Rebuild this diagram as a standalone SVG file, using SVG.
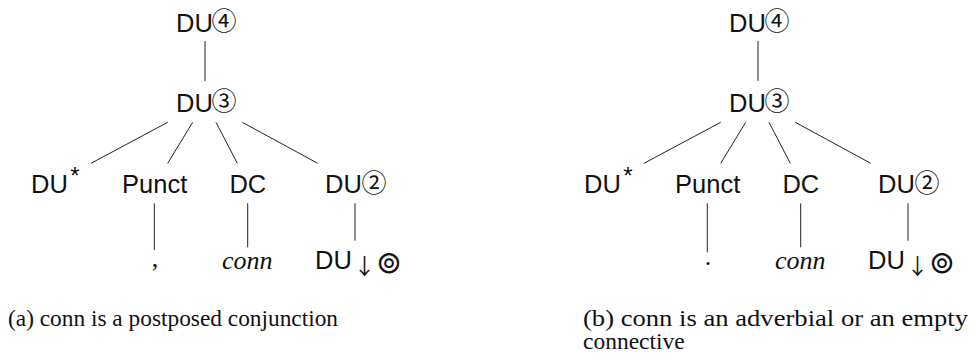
<svg xmlns="http://www.w3.org/2000/svg" width="976" height="362" viewBox="0 0 976 362">
<style>
.s{font-family:"Liberation Sans","DejaVu Sans",sans-serif;font-size:25.5px;fill:#111}
.m{font-family:"Noto Sans CJK JP","DejaVu Sans",sans-serif;font-size:25px;fill:#111;text-anchor:middle}
.ar{font-family:"Noto Sans CJK JP","DejaVu Sans",sans-serif;font-size:22px}
.ring{font-family:"DejaVu Sans",sans-serif;font-size:31px}
.sym{fill:#111;text-anchor:middle}
.c{text-anchor:middle}
.it{font-family:"Liberation Serif",serif;font-style:italic;font-size:26px;fill:#111;text-anchor:middle}
.p{font-family:"Liberation Serif",serif;font-size:26px;fill:#111;text-anchor:middle}
.cap{font-family:"Liberation Serif",serif;font-size:23.5px;fill:#111}
.e line{stroke:#222;stroke-width:1}
</style>
<rect width="976" height="362" fill="#fff"/>
<g id="treeA">
<g class="e" id="edgesA">
<line x1="205" y1="41" x2="205" y2="81"/>
<line x1="167.7" y1="122.3" x2="91" y2="163.3"/>
<line x1="192.7" y1="122.3" x2="167.7" y2="163.3"/>
<line x1="216" y1="122.3" x2="237.3" y2="163.3"/>
<line x1="242.3" y1="122.3" x2="317.7" y2="163.3"/>
<line x1="154.3" y1="203.3" x2="154.3" y2="250"/>
<line x1="247.7" y1="203.3" x2="247.7" y2="247.3"/>
<line x1="355" y1="203.3" x2="355" y2="240.7"/>
</g>
<g id="a-du4"><text class="s" x="176" y="31.5">DU</text><text class="m" x="224" y="30">④</text></g>
<g id="a-du3"><text class="s" x="176" y="111.5">DU</text><text class="m" x="224" y="110">③</text></g>
<g id="a-dustar"><text class="s" x="31" y="193.3">DU</text><text class="s c" x="75" y="184" style="font-size:24px">*</text></g>
<g id="a-punct"><text class="s c" x="154.7" y="193.3">Punct</text></g>
<g id="a-dc"><text class="s c" x="247.8" y="193.3">DC</text></g>
<g id="a-du2"><text class="s" x="325" y="193.3">DU</text><text class="m" x="374" y="192">②</text></g>
<g id="a-comma"><text class="p" x="155" y="266.7">,</text></g>
<g id="a-conn"><text class="it" x="247.2" y="268.7">conn</text></g>
<g id="a-dufoot"><text class="s" x="315" y="269.3">DU</text><text class="sym"><tspan class="ar" x="364.5" y="273.5">↓</tspan><tspan class="ring" x="389" y="272.5">⊚</tspan></text></g>
</g>
<g id="treeB" transform="translate(553,0)">
<g class="e" id="edgesB">
<line x1="205" y1="41" x2="205" y2="81"/>
<line x1="167.7" y1="122.3" x2="91" y2="163.3"/>
<line x1="192.7" y1="122.3" x2="167.7" y2="163.3"/>
<line x1="216" y1="122.3" x2="237.3" y2="163.3"/>
<line x1="242.3" y1="122.3" x2="317.7" y2="163.3"/>
<line x1="154.3" y1="203.3" x2="154.3" y2="252.3"/>
<line x1="247.7" y1="203.3" x2="247.7" y2="247.3"/>
<line x1="355" y1="203.3" x2="355" y2="240.7"/>
</g>
<g id="b-du4"><text class="s" x="176" y="31.5">DU</text><text class="m" x="224" y="30">④</text></g>
<g id="b-du3"><text class="s" x="176" y="111.5">DU</text><text class="m" x="224" y="110">③</text></g>
<g id="b-dustar"><text class="s" x="31" y="193.3">DU</text><text class="s c" x="75" y="184" style="font-size:24px">*</text></g>
<g id="b-punct"><text class="s c" x="154.7" y="193.3">Punct</text></g>
<g id="b-dc"><text class="s c" x="247.8" y="193.3">DC</text></g>
<g id="b-du2"><text class="s" x="325" y="193.3">DU</text><text class="m" x="374" y="192">②</text></g>
<g id="b-period"><text class="p" x="155" y="265">.</text></g>
<g id="b-conn"><text class="it" x="247.2" y="268.7">conn</text></g>
<g id="b-dufoot"><text class="s" x="315" y="269.3">DU</text><text class="sym"><tspan class="ar" x="364.5" y="273.5">↓</tspan><tspan class="ring" x="389" y="272.5">⊚</tspan></text></g>
</g>
<g id="captions">
<text class="cap" x="8" y="325.7" textLength="330" lengthAdjust="spacingAndGlyphs">(a) conn is a postposed conjunction</text>
<text class="cap" x="583" y="325.7" textLength="385" lengthAdjust="spacingAndGlyphs">(b) conn is an adverbial or an empty</text>
<text class="cap" x="583" y="349.3">connective</text>
</g>
</svg>
